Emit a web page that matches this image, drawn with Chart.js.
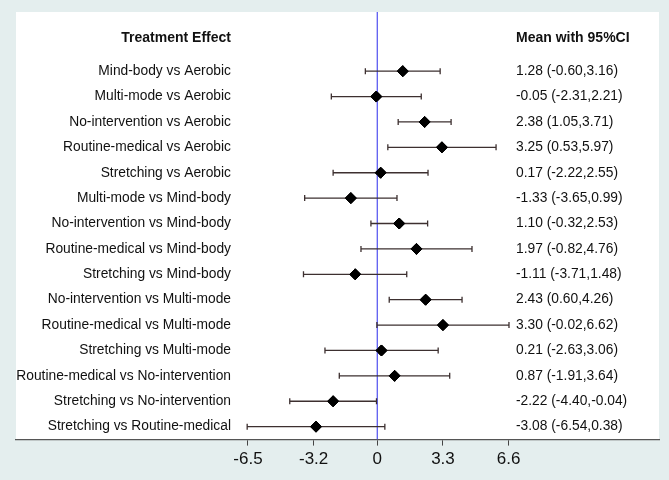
<!DOCTYPE html>
<html>
<head>
<meta charset="utf-8">
<script src="https://cdn.jsdelivr.net/npm/chart.js@4"></script>
<style>
  html, body { margin: 0; padding: 0; background: #e4eeee; }
  #wrap { width: 669px; height: 480px; }
</style>
</head>
<body>
<div id="wrap"><canvas id="forest"></canvas></div>
<script>
// comparisons, mean difference and 95% CI
const comparisons = [
    "Mind-body vs Aerobic",
    "Multi-mode vs Aerobic",
    "No-intervention vs Aerobic",
    "Routine-medical vs Aerobic",
    "Stretching vs Aerobic",
    "Multi-mode vs Mind-body",
    "No-intervention vs Mind-body",
    "Routine-medical vs Mind-body",
    "Stretching vs Mind-body",
    "No-intervention vs Multi-mode",
    "Routine-medical vs Multi-mode",
    "Stretching vs Multi-mode",
    "Routine-medical vs No-intervention",
    "Stretching vs No-intervention",
    "Stretching vs Routine-medical"
];
const means = [1.28, -0.05, 2.38, 3.25, 0.17, -1.33, 1.10, 1.97, -1.11, 2.43, 3.30, 0.21, 0.87, -2.22, -3.08];
const lower = [-0.60, -2.31, 1.05, 0.53, -2.22, -3.65, -0.32, -0.82, -3.71, 0.60, -0.02, -2.63, -1.91, -4.40, -6.54];
const upper = [3.16, 2.21, 3.71, 5.97, 2.55, 0.99, 2.53, 4.76, 1.48, 4.26, 6.62, 3.06, 3.64, -0.04, 0.38];
const tickValues = [-6.5, -3.2, 0, 3.3, 6.6];

const fmt = (v) => v.toFixed(2);

const points = means.map((m, i) => ({ x: m, y: i + 1 }));

// background + white panel
const panelPlugin = {
    id: "panel",
    beforeDraw(chart) {
        const ctx = chart.ctx;
        const a = chart.chartArea;
        ctx.save();
        ctx.fillStyle = "#e4eeee";
        ctx.fillRect(0, 0, chart.width, chart.height);
        ctx.fillStyle = "#ffffff";
        ctx.fillRect(a.left, a.top, a.right - a.left, a.bottom - a.top);
        ctx.restore();
    }
};

// CI whiskers and the two text columns
const forestPlugin = {
    id: "forest",
    afterDatasetsDraw(chart) {
        const ctx = chart.ctx;
        const x = chart.scales.x;
        const y = chart.scales.y;
        ctx.save();
        ctx.strokeStyle = "#3d3030";
        ctx.lineWidth = 1.3;
        comparisons.forEach((c, i) => {
            const py = y.getPixelForValue(i + 1);
            const x1 = x.getPixelForValue(lower[i]);
            const x2 = x.getPixelForValue(upper[i]);
            ctx.beginPath();
            ctx.moveTo(x1, py);
            ctx.lineTo(x2, py);
            ctx.moveTo(x1, py - 3);
            ctx.lineTo(x1, py + 3);
            ctx.moveTo(x2, py - 3);
            ctx.lineTo(x2, py + 3);
            ctx.stroke();
        });
        // redraw diamonds on top of whiskers
        chart.getDatasetMeta(1).data.forEach((el) => el.draw(ctx));

        ctx.fillStyle = "#111111";
        ctx.textBaseline = "middle";
        const headY = y.getPixelForValue(-0.3);
        ctx.font = "bold 14px 'Liberation Sans', Arial, sans-serif";
        ctx.textAlign = "right";
        ctx.fillText("Treatment Effect", 231, headY);
        ctx.textAlign = "left";
        ctx.fillText("Mean with 95%CI", 516, headY);

        ctx.font = "13.8px 'Liberation Sans', Arial, sans-serif";
        comparisons.forEach((c, i) => {
            const py = y.getPixelForValue(i + 1);
            ctx.textAlign = "right";
            ctx.fillText(c, 231, py);
            ctx.textAlign = "left";
            ctx.fillText(fmt(means[i]) + " (" + fmt(lower[i]) + "," + fmt(upper[i]) + ")", 516, py);
        });
        ctx.restore();
    }
};

new Chart(document.getElementById("forest"), {
    type: "scatter",
    data: {
        datasets: [
            {
                // line of no effect
                type: "line",
                data: [{ x: 0, y: -1.33 }, { x: 0, y: 15.51 }],
                borderColor: "#5b5bf0",
                borderWidth: 1.3,
                pointRadius: 0
            },
            {
                data: points,
                pointStyle: "rectRot",
                pointRadius: 5.5,
                backgroundColor: "#000000",
                borderColor: "#000000"
            }
        ]
    },
    options: {
        responsive: true,
        maintainAspectRatio: false,
        animation: false,
        layout: { padding: { left: 16, right: 10, top: 12, bottom: 6 } },
        plugins: {
            legend: { display: false },
            tooltip: { enabled: false }
        },
        scales: {
            x: {
                type: "linear",
                min: -18.16,
                max: 14.16,
                afterBuildTicks: (axis) => {
                    axis.ticks = tickValues.map((v) => ({ value: v }));
                },
                grid: {
                    drawOnChartArea: false,
                    drawTicks: true,
                    tickLength: 6,
                    color: "#444444"
                },
                border: { color: "#555555", width: 1.3 },
                ticks: {
                    color: "#111111",
                    padding: 4,
                    font: { family: "'Liberation Sans', Arial, sans-serif", size: 17 },
                    callback: (v) => String(v)
                }
            },
            y: {
                type: "linear",
                reverse: true,
                min: -1.33,
                max: 15.51,
                display: false
            }
        }
    },
    plugins: [panelPlugin, forestPlugin]
});
</script>
</body>
</html>
